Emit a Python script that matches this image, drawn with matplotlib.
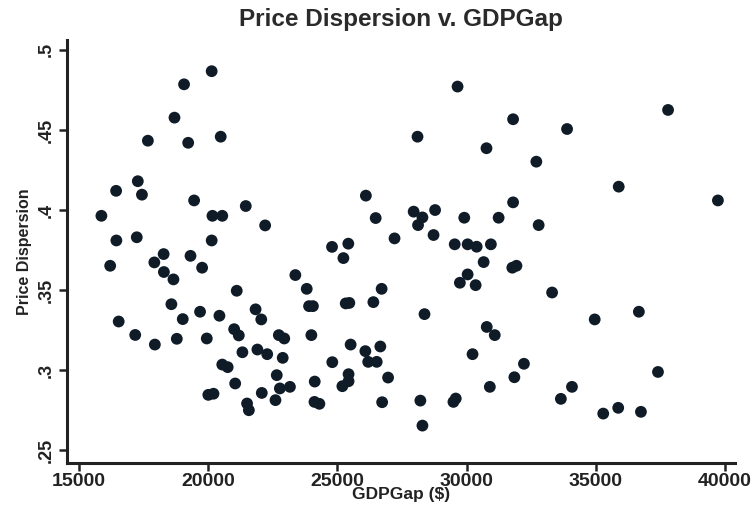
import matplotlib
matplotlib.use("Agg")
import matplotlib.pyplot as plt
from matplotlib.ticker import FixedLocator, FixedFormatter

# GDPGap ($) and price dispersion
gdp_gap = [
    20130, 19060, 18690, 17660, 19220, 20480, 17270, 16430, 17430, 19450,
    15860, 20160, 20540, 21450, 22200, 26100, 26480, 16440, 17230, 20130,
    24790, 25420, 27210, 16200, 17910, 18270, 18280, 18650, 19310, 19760,
    25230, 23370, 23810, 23900, 24050, 25320, 25460, 26390, 26710, 21100,
    18570, 19010, 19680, 20430, 21830, 22050, 16530, 17170, 17930, 18780,
    19940, 21000, 21180, 21320, 21900, 22280, 22730, 22940, 22880, 23990,
    20540, 20750, 21040, 22650, 22070, 22770, 23160, 22600, 20000, 20200,
    21500, 21570, 24120, 24110, 24300, 24800, 25510, 26080, 26190, 26520,
    26660, 25430, 25430, 25190, 26960, 26730,
    29650, 37800, 31800, 33890, 28100, 30770, 32700, 35890, 39730, 31800,
    27950, 28290, 28120, 28780, 29910, 31240, 32790, 28720, 29540, 30040,
    30390, 30940, 30660, 31770, 31930, 30040, 29740, 30350, 33310, 28370,
    34960, 36670, 30780, 31090, 30230, 32220, 31850, 30900, 34080, 33650,
    37410, 35290, 35870, 36750, 28210, 28290, 29490, 29580,
]
price_disp = [
    0.4867, 0.4785, 0.4577, 0.4433, 0.4420, 0.4458, 0.4180, 0.4120, 0.4096, 0.4060,
    0.3964, 0.3964, 0.3964, 0.4025, 0.3904, 0.4090, 0.3950, 0.3810, 0.3830, 0.3810,
    0.3770, 0.3790, 0.3823, 0.3652, 0.3673, 0.3725, 0.3613, 0.3567, 0.3714, 0.3640,
    0.3700, 0.3594, 0.3508, 0.3400, 0.3400, 0.3417, 0.3420, 0.3425, 0.3508, 0.3496,
    0.3412, 0.3319, 0.3365, 0.3340, 0.3380, 0.3317, 0.3304, 0.3220, 0.3160, 0.3196,
    0.3198, 0.3256, 0.3217, 0.3112, 0.3129, 0.3100, 0.3219, 0.3198, 0.3077, 0.3219,
    0.3035, 0.3019, 0.2917, 0.2969, 0.2858, 0.2886, 0.2896, 0.2813, 0.2846, 0.2853,
    0.2792, 0.2750, 0.2929, 0.2802, 0.2790, 0.3050, 0.3160, 0.3119, 0.3052, 0.3052,
    0.3148, 0.2975, 0.2931, 0.2900, 0.2954, 0.2800,
    0.4771, 0.4625, 0.4567, 0.4506, 0.4458, 0.4386, 0.4302, 0.4146, 0.4060, 0.4048,
    0.3990, 0.3954, 0.3906, 0.4000, 0.3952, 0.3952, 0.3906, 0.3844, 0.3786, 0.3786,
    0.3771, 0.3786, 0.3675, 0.3640, 0.3652, 0.3598, 0.3546, 0.3531, 0.3485, 0.3350,
    0.3317, 0.3365, 0.3270, 0.3219, 0.3100, 0.3040, 0.2956, 0.2896, 0.2896, 0.2821,
    0.2989, 0.2729, 0.2765, 0.2740, 0.2810, 0.2654, 0.2802, 0.2823,
]

x_ticks = [15000, 20000, 25000, 30000, 35000, 40000]
y_ticks = [0.25, 0.3, 0.35, 0.4, 0.45, 0.5]
y_labels = [".25", ".3", ".35", ".4", ".45", ".5"]

plt.rcParams["font.family"] = ["Liberation Sans", "DejaVu Sans"]

fig = plt.figure(figsize=(7.55, 5.17), dpi=100)
ax = fig.add_axes([0.089, 0.104, 0.884, 0.819])

ax.scatter(gdp_gap, price_disp, s=72, color="#0f1c28", edgecolors="none", zorder=3)

ax.set_xlim(14536, 40377)
ax.set_ylim(0.2419, 0.5063)
ax.xaxis.set_major_locator(FixedLocator(x_ticks))
ax.yaxis.set_major_locator(FixedLocator(y_ticks))
ax.yaxis.set_major_formatter(FixedFormatter(y_labels))

for side in ("top", "right"):
    ax.spines[side].set_visible(False)
for side in ("left", "bottom"):
    ax.spines[side].set_linewidth(2.2)
    ax.spines[side].set_color("#222222")

ax.tick_params(axis="both", direction="out", width=1.8, length=6, color="#222222")
ax.tick_params(axis="x", labelsize=14, pad=1, labelcolor="#222222")
ax.tick_params(axis="y", labelsize=13, pad=3, labelcolor="#222222")
for lab in ax.get_xticklabels():
    lab.set_fontweight("bold")
for lab in ax.get_yticklabels():
    lab.set_rotation(90)
    lab.set_verticalalignment("center")
    lab.set_fontweight("bold")

ax.set_xlabel("GDPGap ($)", fontsize=12.5, fontweight="bold", labelpad=-2, color="#222222")
ax.set_ylabel("Price Dispersion", fontsize=11.5, fontweight="bold", labelpad=4, color="#222222")
ax.set_title("Price Dispersion v. GDPGap", fontsize=17.5, fontweight="bold", pad=10, color="#2a2a2a")

fig.savefig("out.png", dpi=100)
